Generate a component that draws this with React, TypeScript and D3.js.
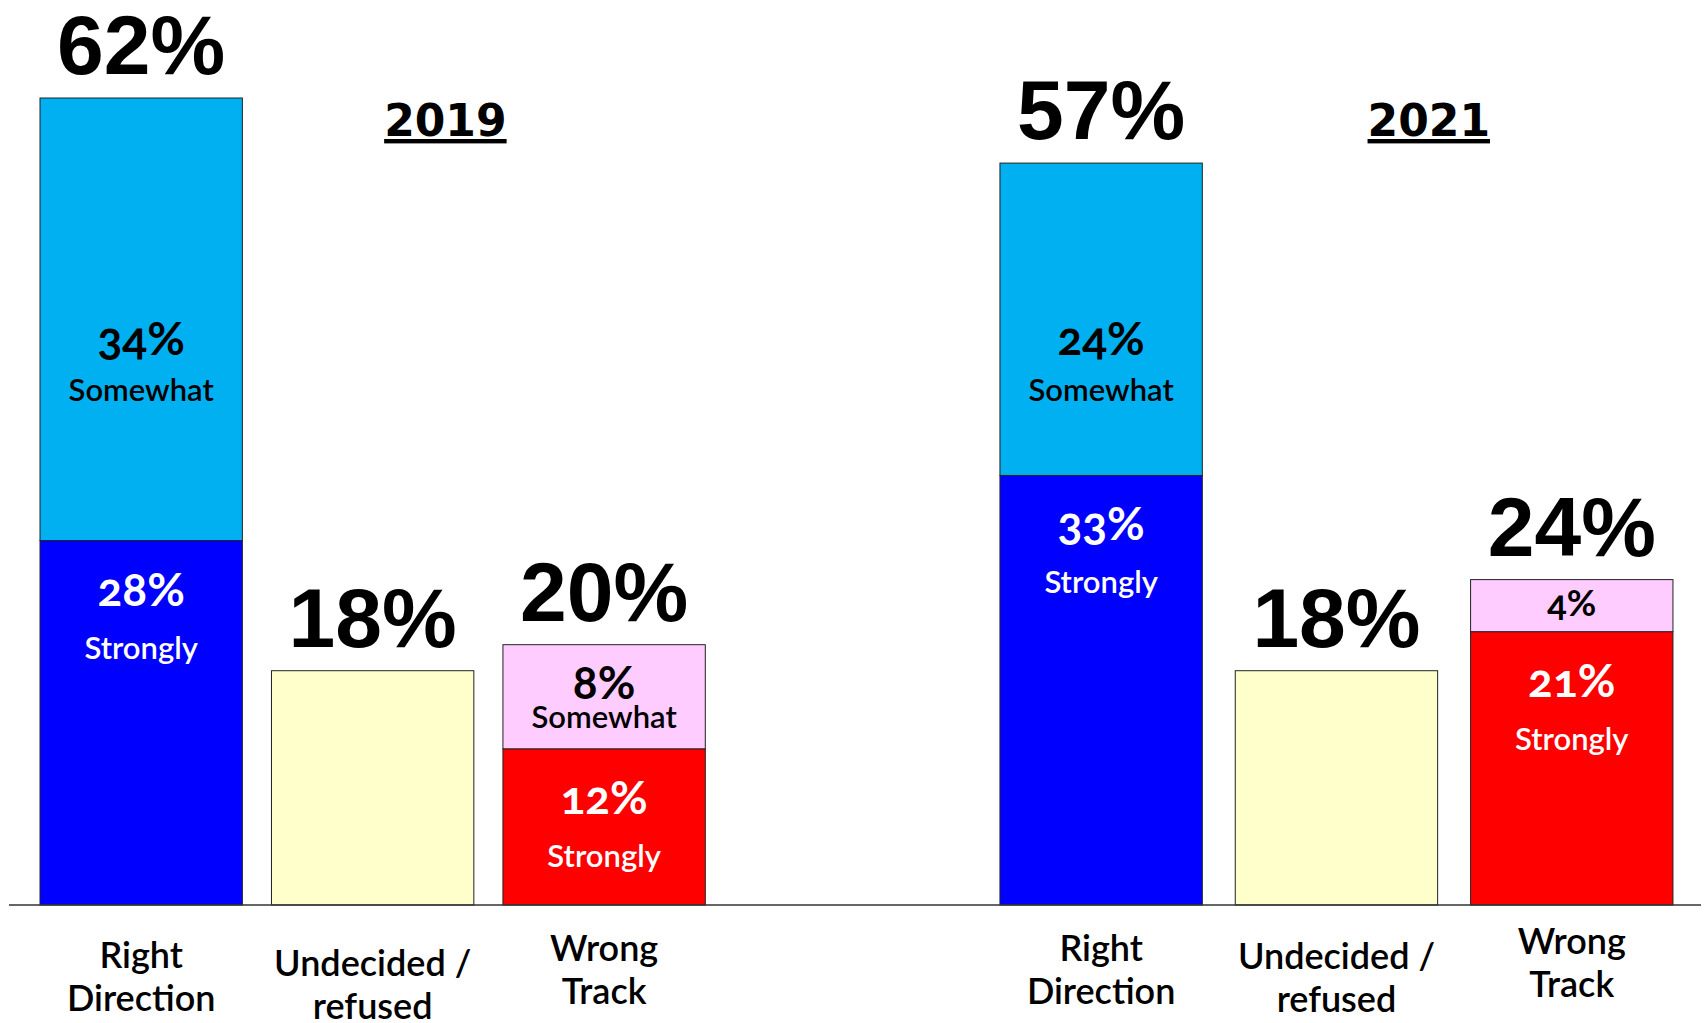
import { useEffect, useRef } from 'react';
import * as d3 from 'd3';

// values
const years = ['2019', '2021'];
const categories = ['Right Direction', 'Undecided / refused', 'Wrong Track'];
const categoryLines = [['Right', 'Direction'], ['Undecided /', 'refused'], ['Wrong', 'Track']];
const rightStrongly = [28, 33];
const rightSomewhat = [34, 24];
const undecided = [18, 18];
const wrongStrongly = [12, 21];
const wrongSomewhat = [8, 4];
const totalLabels = [['62%', '18%', '20%'], ['57%', '18%', '24%']];
const wrongSomewhatWord = ['Somewhat', ''];

const W = 1708;
const H = 1023;

interface Seg {
  year: string;
  cat: string;
  y0: number;
  y1: number;
  fill: string;
  ink: string;
  pct: string;
  word: string;
  part: 'bottom' | 'top' | 'none';
}

export default function App() {
  const svgRef = useRef<SVGSVGElement>(null);

  useEffect(() => {
    if (!svgRef.current) return;
    const svg = d3.select(svgRef.current);
    svg.selectAll('*').remove();

    const baseY = 905;
    const y = d3.scaleLinear().domain([0, 62]).range([baseY, 98]);

    const outer = d3.scaleBand<string>().domain(years).range([40, 1670]).paddingInner(0.302);
    // the two groups on the slide are not spaced quite the same
    const groupWidth = [662, 673];
    const inners = years.map((_, i) =>
      d3.scaleBand<string>().domain(categories).range([0, groupWidth[i]]).paddingInner(0.14)
    );
    const bw = inners[1].bandwidth();

    // build stacked segments
    const segs: Seg[] = [];
    years.forEach((yr, i) => {
      segs.push({ year: yr, cat: categories[0], y0: 0, y1: rightStrongly[i], fill: '#0000FF', ink: '#fff', pct: `${rightStrongly[i]}%`, word: 'Strongly', part: 'bottom' });
      segs.push({ year: yr, cat: categories[0], y0: rightStrongly[i], y1: rightStrongly[i] + rightSomewhat[i], fill: '#00B0F0', ink: '#000', pct: `${rightSomewhat[i]}%`, word: 'Somewhat', part: 'top' });
      segs.push({ year: yr, cat: categories[1], y0: 0, y1: undecided[i], fill: '#FFFFCC', ink: '#000', pct: '', word: '', part: 'none' });
      segs.push({ year: yr, cat: categories[2], y0: 0, y1: wrongStrongly[i], fill: '#FF0000', ink: '#fff', pct: `${wrongStrongly[i]}%`, word: 'Strongly', part: 'bottom' });
      segs.push({ year: yr, cat: categories[2], y0: wrongStrongly[i], y1: wrongStrongly[i] + wrongSomewhat[i], fill: '#FFCCFF', ink: '#000', pct: `${wrongSomewhat[i]}%`, word: wrongSomewhatWord[i], part: 'top' });
    });

    const xOf = (yr: string, cat: string) => {
      const i = years.indexOf(yr);
      return (outer(yr) ?? 0) + (inners[i](cat) ?? 0);
    };

    svg
      .selectAll('rect.seg')
      .data(segs)
      .enter()
      .append('rect')
      .attr('class', 'seg')
      .attr('x', (d) => xOf(d.year, d.cat))
      .attr('y', (d) => y(d.y1))
      .attr('width', bw)
      .attr('height', (d) => y(d.y0) - y(d.y1))
      .attr('fill', (d) => d.fill)
      .attr('stroke', '#222')
      .attr('stroke-width', 1);

    // axis baseline
    svg
      .append('line')
      .attr('x1', 9)
      .attr('x2', 1701)
      .attr('y1', baseY)
      .attr('y2', baseY)
      .attr('stroke', '#333')
      .attr('stroke-width', 1.5);

    // labels inside segments
    segs
      .filter((d) => d.part !== 'none')
      .forEach((d) => {
        const cx = xOf(d.year, d.cat) + bw / 2;
        const top = y(d.y1);
        const bottom = y(d.y0);
        const h = bottom - top;
        let pctY: number;
        let wordY: number;
        let pctSize = 46;
        if (d.part === 'bottom') {
          pctY = top + 65;
          wordY = top + 118;
        } else if (h > 200) {
          pctY = (top + bottom) / 2 + 36;
          wordY = pctY + 46;
        } else if (d.word) {
          pctY = (top + bottom) / 2 + 2;
          wordY = pctY + 29;
        } else {
          pctSize = 36;
          pctY = (top + bottom) / 2 + 10;
          wordY = pctY;
        }
        svg
          .append('text')
          .attr('x', cx)
          .attr('y', pctY)
          .attr('text-anchor', 'middle')
          .style('font-family', 'Lato, sans-serif')
          .style('font-weight', 700)
          .style('font-size', `${pctSize}px`)
          .style('font-variant-numeric', 'oldstyle-nums')
          .attr('fill', d.ink)
          .text(d.pct);
        if (d.word) {
          svg
            .append('text')
            .attr('x', cx)
            .attr('y', wordY)
            .attr('text-anchor', 'middle')
            .style('font-family', 'Lato, sans-serif')
            .style('font-weight', 600)
            .style('font-size', '31px')
            .attr('fill', d.ink)
            .text(d.word);
        }
      });

    // big totals above bars
    const titlePos = [0.605, 0.64];
    years.forEach((yr, i) => {
      const stackTops = [
        rightStrongly[i] + rightSomewhat[i],
        undecided[i],
        wrongStrongly[i] + wrongSomewhat[i],
      ];
      categories.forEach((cat, j) => {
        svg
          .append('text')
          .attr('x', xOf(yr, cat) + bw / 2)
          .attr('y', y(stackTops[j]) - 24)
          .attr('text-anchor', 'middle')
          .style('font-family', '"Liberation Sans", Arial, sans-serif')
          .style('font-weight', 700)
          .style('font-size', '84px')
          .attr('fill', '#000')
          .text(totalLabels[i][j]);
      });

      // year title
      svg
        .append('text')
        .attr('x', (outer(yr) ?? 0) + outer.bandwidth() * titlePos[i])
        .attr('y', 136)
        .attr('text-anchor', 'middle')
        .style('font-family', '"DejaVu Sans", sans-serif')
        .style('font-weight', 700)
        .style('font-size', '44px')
        .style('text-decoration', 'underline')
        .attr('fill', '#000')
        .text(yr);
    });

    // category labels under the axis
    const catDy = [0, 8, -7];
    const yearDy = [0, -7];
    years.forEach((yr, i) => {
      categories.forEach((cat, j) => {
        const t = svg
          .append('text')
          .attr('text-anchor', 'middle')
          .style('font-family', 'Lato, sans-serif')
          .style('font-weight', 600)
          .style('font-size', '36px')
          .attr('fill', '#000');
        categoryLines[j].forEach((line, k) => {
          t.append('tspan')
            .attr('x', xOf(yr, cat) + bw / 2)
            .attr('y', 968 + catDy[j] + yearDy[i] + k * 43)
            .text(line);
        });
      });
    });
  }, []);

  return (
    <div style={{ position: 'absolute', left: 0, top: 0, width: W, height: H, background: '#fff' }}>
      <svg ref={svgRef} width={W} height={H} style={{ display: 'block' }} />
    </div>
  );
}
